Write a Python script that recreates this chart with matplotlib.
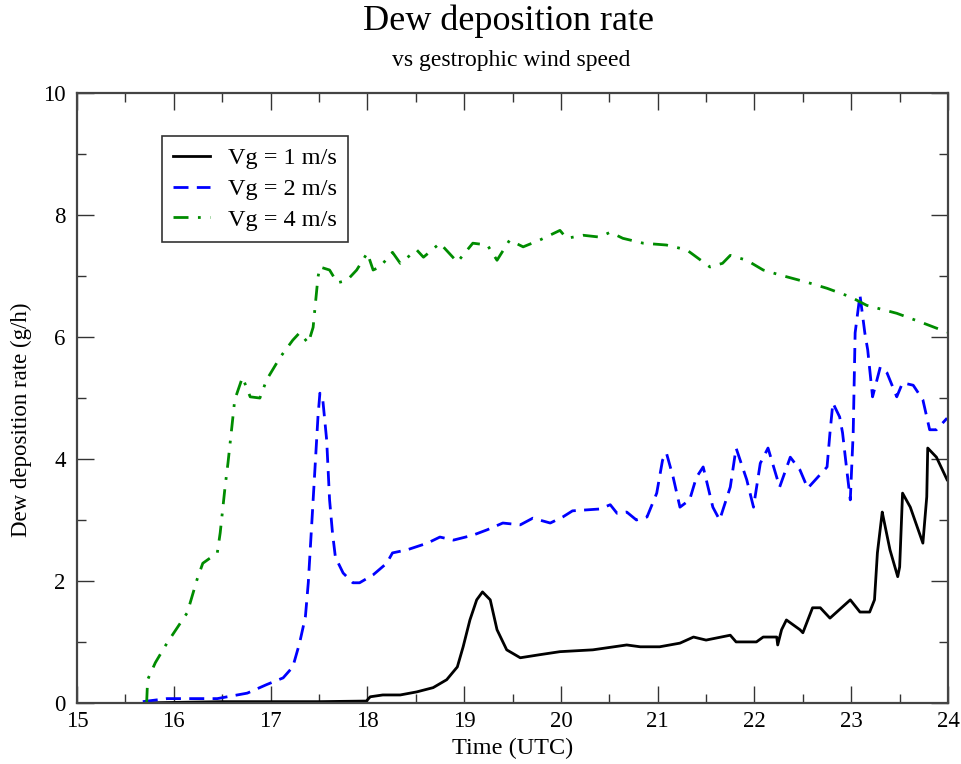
import numpy as np
import matplotlib
matplotlib.use("Agg")
import matplotlib.pyplot as plt
from matplotlib.ticker import MultipleLocator

plt.rcParams['font.family'] = ['Liberation Serif', 'DejaVu Serif']

# Vg = 1 m/s
t1 = [15.70, 16.5, 17.5, 17.99, 18.03, 18.16, 18.34, 18.51, 18.68, 18.82, 18.93, 18.99, 19.06,
      19.13, 19.19, 19.27, 19.34, 19.44, 19.58, 19.78, 19.99, 20.33, 20.68, 20.82, 21.02,
      21.23, 21.37, 21.50, 21.75, 21.81, 22.02, 22.09, 22.23, 22.24, 22.28, 22.33, 22.47,
      22.50, 22.60, 22.68, 22.78, 22.99, 23.09, 23.19, 23.24, 23.27, 23.32, 23.33, 23.40,
      23.48, 23.50, 23.53, 23.61, 23.74, 23.78, 23.79, 23.88, 23.99]
v1 = [0.0, 0.02, 0.02, 0.03, 0.10, 0.13, 0.13, 0.18, 0.25, 0.38, 0.59, 0.92, 1.36,
      1.69, 1.82, 1.69, 1.20, 0.87, 0.74, 0.79, 0.84, 0.87, 0.95, 0.92, 0.92,
      0.98, 1.08, 1.03, 1.11, 1.00, 1.00, 1.08, 1.08, 0.95, 1.20, 1.36, 1.20,
      1.15, 1.56, 1.56, 1.39, 1.69, 1.49, 1.49, 1.69, 2.46, 3.13, 3.05, 2.51,
      2.07, 2.23, 3.44, 3.21, 2.62, 3.38, 4.18, 4.03, 3.66]

# Vg = 2 m/s
t2 = [15.68, 15.93, 16.45, 16.76, 16.96, 17.13, 17.23, 17.30, 17.36, 17.39, 17.43, 17.46,
      17.49, 17.51, 17.54, 17.58, 17.61, 17.64, 17.67, 17.75, 17.85, 17.92, 18.06, 18.20,
      18.26, 18.41, 18.62, 18.75, 18.89, 19.09, 19.24, 19.40, 19.58, 19.71, 19.89, 20.02,
      20.12, 20.40, 20.51, 20.58, 20.68, 20.78, 20.89, 20.99, 21.05, 21.09, 21.16, 21.23,
      21.33, 21.40, 21.47, 21.57, 21.64, 21.75, 21.81, 21.92, 21.99, 22.06, 22.14, 22.23,
      22.26, 22.37, 22.47, 22.55, 22.75, 22.78, 22.81, 22.88, 22.91, 22.95, 22.99, 23.02,
      23.04, 23.09, 23.14, 23.17, 23.22, 23.30, 23.37, 23.47, 23.53, 23.64, 23.74, 23.81,
      23.88, 23.99]
v2 = [0.02, 0.07, 0.07, 0.16, 0.30, 0.41, 0.59, 0.98, 1.41, 1.97, 3.05, 3.87,
      4.69, 5.08, 4.97, 4.31, 3.33, 2.79, 2.39, 2.13, 1.97, 1.97, 2.10, 2.29,
      2.46, 2.51, 2.62, 2.72, 2.67, 2.75, 2.84, 2.95, 2.92, 3.03, 2.95, 3.05,
      3.15, 3.18, 3.25, 3.11, 3.13, 3.00, 3.05, 3.44, 3.98, 4.10, 3.70, 3.21,
      3.33, 3.70, 3.87, 3.21, 3.00, 3.54, 4.18, 3.66, 3.21, 3.93, 4.18, 3.70,
      3.54, 4.03, 3.82, 3.52, 3.87, 4.43, 4.92, 4.69, 4.43, 3.87, 3.33, 4.43,
      6.07, 6.69, 6.07, 5.79, 5.02, 5.51, 5.41, 5.02, 5.25, 5.21, 4.97, 4.48,
      4.48, 4.67]

# Vg = 4 m/s
t4 = [15.72, 15.73, 15.81, 15.93, 16.14, 16.24, 16.30, 16.45, 16.48, 16.53, 16.56, 16.60,
      16.63, 16.71, 16.79, 16.89, 16.96, 17.10, 17.23, 17.30, 17.39, 17.44, 17.46, 17.49,
      17.51, 17.61, 17.69, 17.79, 17.89, 18.00, 18.06, 18.13, 18.26, 18.34, 18.51, 18.58,
      18.75, 18.93, 19.09, 19.24, 19.34, 19.47, 19.61, 19.78, 19.99, 20.06, 20.23, 20.40,
      20.51, 20.64, 20.85, 21.09, 21.30, 21.54, 21.67, 21.75, 21.92, 22.09, 22.26, 22.54,
      22.75, 22.99, 23.16, 23.47, 23.71, 23.99]
v4 = [0.0, 0.38, 0.66, 0.98, 1.48, 2.02, 2.29, 2.46, 2.79, 3.54, 3.93, 4.52,
      4.97, 5.34, 5.02, 5.00, 5.30, 5.67, 5.95, 6.07, 5.90, 6.16, 6.49, 6.98,
      7.15, 7.10, 6.89, 6.93, 7.10, 7.38, 7.10, 7.15, 7.39, 7.21, 7.43, 7.31,
      7.54, 7.23, 7.54, 7.51, 7.26, 7.59, 7.48, 7.59, 7.75, 7.62, 7.67, 7.64,
      7.72, 7.62, 7.54, 7.51, 7.43, 7.15, 7.21, 7.34, 7.26, 7.10, 7.02, 6.90,
      6.80, 6.66, 6.52, 6.39, 6.25, 6.08]

fig = plt.figure(figsize=(9.62, 7.64), dpi=100)
ax = fig.add_axes([0.080, 0.080, 0.9055, 0.798])

ax.plot(t1, v1, color='black', lw=2, label='Vg = 1 m/s')
ax.plot(t2, v2, color='blue', lw=2, linestyle=(0, (5.4, 3)), label='Vg = 2 m/s')
ax.plot(t4, v4, color='#008c00', lw=2, linestyle=(0, (5.4, 3.4, 1, 3.4)), label='Vg = 4 m/s')

ax.set_xlim(15, 24)
ax.set_ylim(0, 10)
ax.xaxis.set_major_locator(MultipleLocator(1))
ax.xaxis.set_minor_locator(MultipleLocator(0.5))
ax.yaxis.set_major_locator(MultipleLocator(2))
ax.yaxis.set_minor_locator(MultipleLocator(1))
ax.tick_params(which='both', direction='in', top=True, right=True, labelsize=16.5,
               width=1, color='#333333')
ax.tick_params(axis='x', pad=6)
ax.tick_params(axis='y', pad=8)
ax.tick_params(which='major', length=12)
ax.tick_params(which='minor', length=6.5)
for s in ax.spines.values():
    s.set_linewidth(1.6)
    s.set_color('#444444')

ax.set_xlabel('Time (UTC)', fontsize=17.5, labelpad=4)
ax.set_ylabel('Dew deposition rate (g/h)', fontsize=16.5, labelpad=6)
ax.yaxis.set_label_coords(-0.052, 0.465)

fig.text(0.529, 0.972, 'Dew deposition rate', ha='center', va='center', fontsize=26)
fig.text(0.531, 0.921, 'vs gestrophic wind speed', ha='center', va='center', fontsize=17)

leg = ax.legend(loc='upper left', bbox_to_anchor=(0.098, 0.929), fontsize=17.5,
                frameon=True, fancybox=False, handlelength=1.5, borderpad=0.45,
                labelspacing=0.36, handletextpad=0.75, borderaxespad=0)
leg.get_frame().set_edgecolor('black')
leg.get_frame().set_linewidth(1.2)

fig.savefig('out.png', dpi=100)
